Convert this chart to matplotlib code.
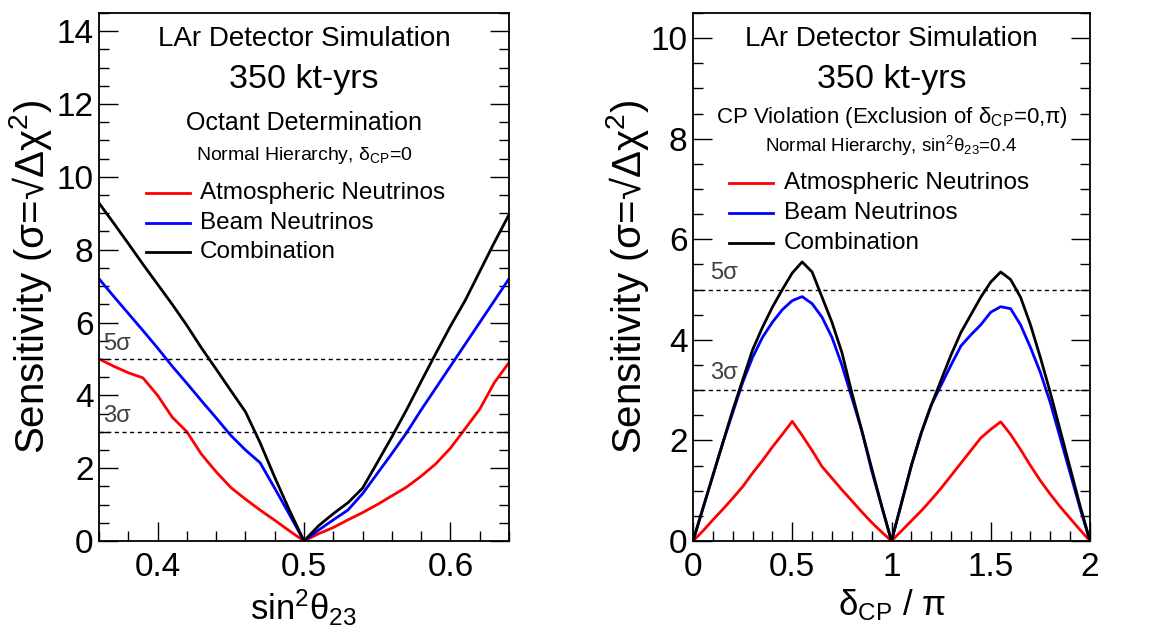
import numpy as np
import matplotlib
matplotlib.use("Agg")
import matplotlib.pyplot as plt
from matplotlib.ticker import MultipleLocator

plt.rcParams['font.family'] = ['Liberation Sans', 'DejaVu Sans']
plt.rcParams['mathtext.fontset'] = 'custom'
plt.rcParams['mathtext.rm'] = 'Liberation Sans'
plt.rcParams['mathtext.it'] = 'Liberation Sans:italic'

# ---- octant determination (left) ----
oct_x = [0.36, 0.37, 0.38, 0.39, 0.40, 0.41, 0.42, 0.43, 0.44, 0.45,
         0.46, 0.47, 0.48, 0.49, 0.50, 0.51, 0.52, 0.53, 0.54, 0.55,
         0.56, 0.57, 0.58, 0.59, 0.60, 0.61, 0.62, 0.63, 0.64]
oct_atm = [5.0, 4.8, 4.62, 4.48, 4.0, 3.4, 3.0, 2.38, 1.9, 1.47,
           1.15, 0.85, 0.57, 0.28, 0.0, 0.2, 0.37, 0.58, 0.78, 1.0,
           1.24, 1.48, 1.78, 2.12, 2.55, 3.08, 3.62, 4.35, 4.9]
oct_beam = [7.2, 6.72, 6.25, 5.78, 5.3, 4.8, 4.33, 3.85, 3.38, 2.9,
            2.5, 2.15, 1.45, 0.73, 0.0, 0.3, 0.58, 0.85, 1.3, 1.85,
            2.4, 2.97, 3.6, 4.2, 4.8, 5.4, 6.0, 6.6, 7.2]
oct_comb = [9.28, 8.73, 8.17, 7.6, 7.05, 6.5, 5.92, 5.3, 4.72, 4.13,
            3.55, 2.7, 1.75, 0.85, 0.0, 0.42, 0.75, 1.05, 1.45, 2.15,
            2.86, 3.6, 4.38, 5.15, 5.9, 6.6, 7.4, 8.2, 8.96]

# ---- CP violation (right) ----
cp_x = [0.0, 0.05, 0.1, 0.15, 0.2, 0.25, 0.3, 0.35, 0.4, 0.45,
        0.5, 0.55, 0.6, 0.65, 0.7, 0.75, 0.8, 0.85, 0.9, 0.95,
        1.0, 1.05, 1.1, 1.15, 1.2, 1.25, 1.3, 1.35, 1.4, 1.45,
        1.5, 1.55, 1.6, 1.65, 1.7, 1.75, 1.8, 1.85, 1.9, 1.95, 2.0]
cp_atm = [0.0, 0.2, 0.42, 0.63, 0.85, 1.08, 1.35, 1.6, 1.87, 2.12,
          2.38, 2.1, 1.8, 1.48, 1.25, 1.02, 0.8, 0.58, 0.37, 0.18,
          0.0, 0.2, 0.4, 0.6, 0.82, 1.05, 1.3, 1.55, 1.8, 2.05,
          2.22, 2.37, 2.12, 1.82, 1.5, 1.2, 0.93, 0.68, 0.45, 0.22, 0.0]
cp_beam = [0.0, 0.65, 1.3, 1.95, 2.55, 3.15, 3.65, 4.05, 4.35, 4.6,
           4.78, 4.86, 4.72, 4.45, 4.05, 3.5, 2.85, 2.2, 1.4, 0.7,
           0.0, 0.75, 1.5, 2.15, 2.7, 3.1, 3.5, 3.88, 4.1, 4.3,
           4.55, 4.66, 4.62, 4.3, 3.85, 3.35, 2.75, 2.05, 1.35, 0.65, 0.0]
cp_comb = [0.0, 0.65, 1.3, 1.95, 2.6, 3.2, 3.8, 4.25, 4.65, 5.0,
           5.33, 5.55, 5.35, 4.85, 4.35, 3.75, 2.95, 2.2, 1.45, 0.7,
           0.0, 0.75, 1.5, 2.15, 2.7, 3.2, 3.7, 4.15, 4.5, 4.85,
           5.15, 5.35, 5.2, 4.85, 4.3, 3.65, 2.95, 2.2, 1.45, 0.7, 0.0]

legend_names = ["Atmospheric Neutrinos", "Beam Neutrinos", "Combination"]
legend_colors = ["#ff0000", "#0000ff", "#000000"]
sigma_levels = [3, 5]
sigma_names = ["3σ", "5σ"]
ylabel_text = "Sensitivity (σ=√Δχ$\\mathregular{^2}$)"


def styleAxes(ax, xmaj, xmin, ymaj, ymin, fs):
  ax.xaxis.set_major_locator(MultipleLocator(xmaj))
  ax.xaxis.set_minor_locator(MultipleLocator(xmin))
  ax.yaxis.set_major_locator(MultipleLocator(ymaj))
  ax.yaxis.set_minor_locator(MultipleLocator(ymin))
  ax.tick_params(which='both', direction='in', right=True, top=False,
                 width=1.0, labelsize=fs)
  ax.tick_params(axis='y', pad=4)
  ax.tick_params(axis='x', pad=8)
  ax.tick_params(which='major', length=14)
  ax.tick_params(which='minor', length=7)
  for s in ax.spines.values():
    s.set_linewidth(1.3)


def drawPanel(ax, x, series, title3, title4, sigx):
  for ys, c in zip(series, legend_colors):
    ax.plot(x, ys, color=c, lw=2.0)
  for lvl, name in zip(sigma_levels, sigma_names):
    ax.axhline(lvl, color='black', ls=(0, (3, 2.5)), lw=1.0)
    ax.text(sigx, lvl + 0.12, name, color='#404040', fontsize=17,
            ha='left', va='bottom')
  ax.text(0.5, 0.951, "LAr Detector Simulation", transform=ax.transAxes,
          ha='center', va='center', fontsize=20)
  ax.text(0.5, 0.874, "350 kt-yrs", transform=ax.transAxes,
          ha='center', va='center', fontsize=24.5)
  ax.text(0.5, title3[1], title3[0], transform=ax.transAxes,
          ha='center', va='center', fontsize=title3[2])
  ax.text(0.5, title4[1], title4[0], transform=ax.transAxes,
          ha='center', va='center', fontsize=title4[2])


def drawLegend(ax, rows, x0, x1, xt):
  for yy, name, c in zip(rows, legend_names, legend_colors):
    ax.plot([x0, x1], [yy, yy], color=c, lw=2.0, transform=ax.transAxes)
    ax.text(xt, yy, name, transform=ax.transAxes, ha='left', va='center',
            fontsize=17.5)


fig = plt.figure(figsize=(11.63, 6.36), dpi=100)

# left panel
ax1 = fig.add_axes([99/1163, 1 - 541/636, 410/1163, 528/636])
drawPanel(ax1, oct_x, [oct_atm, oct_beam, oct_comb],
          ("Octant Determination", 0.792, 18),
          ("Normal Hierarchy, δ$\\mathregular{_{CP}}$=0", 0.731, 14), 0.363)
ax1.set_xlim(0.36, 0.64)
ax1.set_ylim(0, 14.5)
styleAxes(ax1, 0.1, 0.02, 2, 0.5, 24)
ax1.set_ylabel(ylabel_text, fontsize=29)
ax1.yaxis.set_label_coords(-0.11, 0.5)
ax1.text(0.498, -0.15, "sin$\\mathregular{^2}$θ$\\mathregular{_{23}}$",
         transform=ax1.transAxes, ha='center', va='baseline', fontsize=25)
drawLegend(ax1, [0.659, 0.602, 0.547], 0.115, 0.222, 0.246)

# right panel
ax2 = fig.add_axes([693/1163, 1 - 541/636, 397/1163, 528/636])
drawPanel(ax2, cp_x, [cp_atm, cp_beam, cp_comb],
          ("CP Violation (Exclusion of δ$\\mathregular{_{CP}}$=0,π)", 0.803, 16),
          ("Normal Hierarchy, sin$\\mathregular{^2}$θ$\\mathregular{_{23}}$=0.4", 0.748, 13.5),
          0.085)
ax2.set_xlim(0, 2)
ax2.set_ylim(0, 10.5)
styleAxes(ax2, 0.5, 0.1, 2, 0.5, 24)
ax2.set_xticks([0, 0.5, 1, 1.5, 2])
ax2.set_xticklabels(["0", "0.5", "1", "1.5", "2"])
ax2.set_ylabel(ylabel_text, fontsize=29)
ax2.yaxis.set_label_coords(-0.106, 0.5)
ax2.text(0.5, -0.14, "δ$\\mathregular{_{CP}}$ / π",
         transform=ax2.transAxes, ha='center', va='baseline', fontsize=25)
drawLegend(ax2, [0.678, 0.621, 0.564], 0.091, 0.202, 0.229)

fig.savefig("out.png", dpi=100)
